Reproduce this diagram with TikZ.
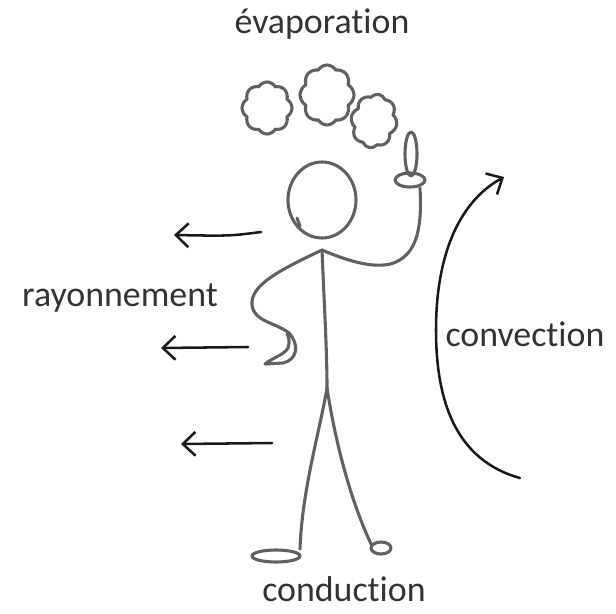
\documentclass[tikz,border=0pt]{standalone}
\usepackage{fontspec}
\setmainfont{Carlito}[RawFeature=-liga]
\usetikzlibrary{arrows.meta,shapes.symbols}

\tikzstyle{sketch} = [draw=black!62,line width=2.2pt,line cap=round,line join=round]
\tikzstyle{puff} = [cloud,sketch,cloud puffs=8,cloud puff arc=120,inner sep=0pt]
\tikzstyle{flow} = [draw=black!90,line width=1.8pt,line cap=round,-{Straight Barb[length=9pt,width=17pt,line width=1.8pt]}]
\tikzstyle{label} = [text=black!80,font=\fontsize{25.5}{28}\selectfont]

\begin{document}
\begin{tikzpicture}[x=0.025cm,y=-0.025cm]
	\useasboundingbox (0,0) rectangle (616,613);
	% labels
	\node[label] (evap) at (322,24) {évaporation};
	\node[label] (ray) at (120,298) {rayonnement};
	\node[label] (conv) at (525,334) {convection};
	\node[label] (cond) at (344,589) {conduction};
	% clouds above the head
	\node[puff,minimum width=1.25cm,minimum height=1.3cm] (c1) at (267,108) {};
	\node[puff,minimum width=1.35cm,minimum height=1.5cm] (c2) at (327,95) {};
	\node[puff,minimum width=1.15cm,minimum height=1.35cm,rotate=-10] (c3) at (374,121) {};
	% head and body
	\draw[sketch] (322,200) ellipse [x radius=34,y radius=38];
	\draw[sketch] (297,218) -- (300,226);
	\coordinate (neck) at (322,250);
	\coordinate (hip) at (327,388);
	\draw[sketch] (neck) .. controls (324,300) and (327,350) .. (hip);
	% arm on the hip
	\draw[sketch] (neck) .. controls (280,270) and (250,285) .. (252,305)
		.. controls (254,322) and (275,322) .. (289,333)
		.. controls (300,345) and (297,360) .. (283,363)
		-- (265,364) .. controls (272,358) and (284,355) .. (288,348)
		.. controls (290,342) and (289,337) .. (287,334);
	% raised arm with a finger up
	\draw[sketch] (neck) .. controls (350,262) and (378,270) .. (396,262)
		.. controls (418,252) and (422,225) .. (420,188);
	\draw[sketch] (410,180) ellipse [x radius=15,y radius=7];
	\draw[sketch] (411,154) ellipse [x radius=6,y radius=22];
	% legs and feet
	\draw[sketch] (hip) .. controls (320,430) and (302,490) .. (300,549);
	\draw[sketch] (276,556) ellipse [x radius=24,y radius=6];
	\draw[sketch] (hip) .. controls (335,440) and (350,500) .. (372,546);
	\draw[sketch] (381,548) ellipse [x radius=10,y radius=6];
	% heat leaving the body
	\coordinate (r1) at (261,232);
	\coordinate (r2) at (248,347);
	\coordinate (r3) at (272,443);
	\draw[flow] (r1) .. controls (230,236) .. (174,235);
	\draw[flow] (r2) -- (161,348);
	\draw[flow] (r3) -- (181,444);
	\coordinate (air) at (520,478);
	\draw[flow] (air) .. controls (455,460) and (436,400) .. (436,330)
		.. controls (436,250) and (462,200) .. (504,177);
\end{tikzpicture}
\end{document}
